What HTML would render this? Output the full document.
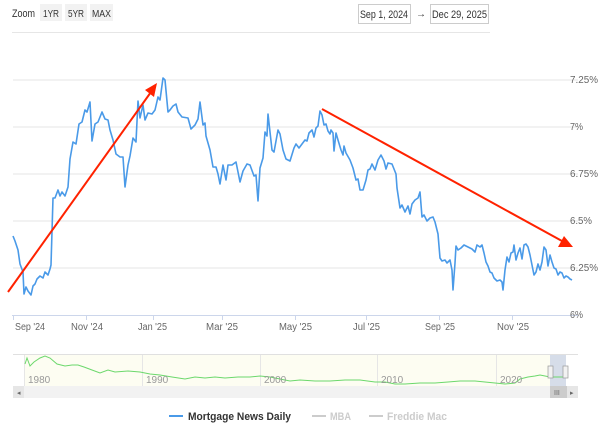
<!DOCTYPE html>
<html><head><style>
body{margin:0;background:#fff;width:610px;height:424px;overflow:hidden;font-family:"Liberation Sans",sans-serif}
</style></head><body>
<svg width="610" height="424" xmlns="http://www.w3.org/2000/svg" font-family="Liberation Sans, sans-serif">
<text x="12" y="17" font-size="11" fill="#333" textLength="23" lengthAdjust="spacingAndGlyphs">Zoom</text>
<rect x="40" y="4" width="22" height="17" fill="#f2f2f2"/><text x="43" y="17" font-size="10.5" fill="#333" textLength="16" lengthAdjust="spacingAndGlyphs">1YR</text>
<rect x="65" y="4" width="22" height="17" fill="#f2f2f2"/><text x="68" y="17" font-size="10.5" fill="#333" textLength="16" lengthAdjust="spacingAndGlyphs">5YR</text>
<rect x="90" y="4" width="23" height="17" fill="#f2f2f2"/><text x="92" y="17" font-size="10.5" fill="#333" textLength="19" lengthAdjust="spacingAndGlyphs">MAX</text>
<rect x="358.5" y="4.5" width="52" height="19" fill="#fff" stroke="#ccc"/><text x="360" y="18" font-size="11" fill="#333" textLength="48" lengthAdjust="spacingAndGlyphs">Sep 1, 2024</text>
<text x="421" y="17" font-size="10" fill="#333" text-anchor="middle">→</text>
<rect x="430.5" y="4.5" width="58" height="19" fill="#fff" stroke="#ccc"/><text x="432" y="18" font-size="11" fill="#333" textLength="55" lengthAdjust="spacingAndGlyphs">Dec 29, 2025</text>
<line x1="12" y1="32.5" x2="490" y2="32.5" stroke="#e6e6e6"/>
<g stroke="#e6e6e6" stroke-width="1">
<line x1="13" y1="80" x2="578" y2="80"/><line x1="13" y1="127" x2="578" y2="127"/><line x1="13" y1="174" x2="578" y2="174"/><line x1="13" y1="221" x2="578" y2="221"/><line x1="13" y1="268" x2="578" y2="268"/>
</g>
<line x1="12" y1="315.5" x2="578" y2="315.5" stroke="#ccd6eb"/>
<g stroke="#ccd6eb"><line x1="13.5" y1="315" x2="13.5" y2="320"/><line x1="86.5" y1="315" x2="86.5" y2="320"/><line x1="153.5" y1="315" x2="153.5" y2="320"/><line x1="222.5" y1="315" x2="222.5" y2="320"/><line x1="295.5" y1="315" x2="295.5" y2="320"/><line x1="366.5" y1="315" x2="366.5" y2="320"/><line x1="439.5" y1="315" x2="439.5" y2="320"/><line x1="512.5" y1="315" x2="512.5" y2="320"/></g>
<g font-size="10" fill="#666" lengthAdjust="spacingAndGlyphs">
<text x="15" y="330" textLength="30" lengthAdjust="spacingAndGlyphs">Sep '24</text>
<text x="71" y="330" textLength="32" lengthAdjust="spacingAndGlyphs">Nov '24</text>
<text x="138" y="330" textLength="29" lengthAdjust="spacingAndGlyphs">Jan '25</text>
<text x="206" y="330" textLength="32" lengthAdjust="spacingAndGlyphs">Mar '25</text>
<text x="279" y="330" textLength="33" lengthAdjust="spacingAndGlyphs">May '25</text>
<text x="353" y="330" textLength="27" lengthAdjust="spacingAndGlyphs">Jul '25</text>
<text x="425" y="330" textLength="30" lengthAdjust="spacingAndGlyphs">Sep '25</text>
<text x="497" y="330" textLength="32" lengthAdjust="spacingAndGlyphs">Nov '25</text>
<text x="570" y="83" textLength="28" lengthAdjust="spacingAndGlyphs">7.25%</text>
<text x="570" y="130" textLength="13" lengthAdjust="spacingAndGlyphs">7%</text>
<text x="570" y="177" textLength="28" lengthAdjust="spacingAndGlyphs">6.75%</text>
<text x="570" y="224" textLength="22" lengthAdjust="spacingAndGlyphs">6.5%</text>
<text x="570" y="271" textLength="28" lengthAdjust="spacingAndGlyphs">6.25%</text>
<text x="570" y="318" textLength="13" lengthAdjust="spacingAndGlyphs">6%</text>
</g>
<polyline fill="none" stroke="#4a9ae8" stroke-width="1.6" stroke-linejoin="round" points="13,236 15,241 18,250 20,264 23,272 24,294 26,287 28,291 31,295 33,286 35,284 37,279 40,276 43,278 45,272 48,275 50,269 51,265 53,198 55,198 58,190 60,196 62,192 65,196 68,187 70,159 73,142 76,144 79,124 82,122 85,110 87,112 90,102 92,141 95,124 98,122 102,112 105,119 108,120 110,130 113,140 116,154 120,157 123,157 125,187 128,165 130,156 133,138 136,142 138,101 140,118 143,105 145,120 148,113 152,114 155,110 158,97 160,100 163,78 165,80 168,112 170,110 173,106 176,104 178,112 182,117 188,118 191,129 195,125 198,119 200,102 203,125 205,123 206,136 210,150 213,167 216,167 218,174 220,184 223,165 226,180 228,165 232,165 236,162 240,182 243,171 247,164 250,165 254,176 256,175 258,201 260,168 263,158 265,132 267,136 268,114 272,150 274,152 278,130 280,134 283,150 286,159 290,161 294,148 296,144 299,148 302,144 305,140 307,141 309,133 312,130 314,137 316,128 318,126 320,111 322,115 324,125 326,124 328,131 330,134 331,130 333,133 334,151 336,133 338,140 341,150 343,155 344,146 346,153 350,160 353,168 356,180 358,179 360,190 363,190 366,180 368,170 370,169 372,164 375,170 378,160 381,155 384,161 386,169 388,163 392,164 396,174 397,188 400,208 402,205 405,212 408,206 410,214 412,204 415,200 418,198 420,192 422,217 424,215 427,221 430,218 433,217 435,222 438,234 440,258 442,261 445,260 447,263 450,260 452,270 453,290 455,263 456,246 458,250 461,248 464,245 468,247 472,249 475,252 477,245 480,247 482,245 484,253 486,262 488,266 490,272 492,273 494,278 497,281 500,280 502,282 503,290 505,270 507,257 509,262 511,253 513,252 514,245 516,260 518,253 520,248 522,259 524,245 526,244 528,247 530,255 532,265 534,275 536,272 538,264 540,270 542,262 544,247 546,250 548,266 550,255 552,262 554,268 556,269 558,275 560,272 562,273 564,278 566,276 568,277 570,279 572,280"/>
<g stroke="#ff2200" stroke-width="2" fill="#ff2200">
<line x1="8" y1="292" x2="151" y2="92"/><polygon points="157,83 145,90 154,97" stroke="none"/>
<line x1="322" y1="109" x2="562" y2="241"/><polygon points="573,247 558,247 564,236" stroke="none"/>
</g>
<line x1="13" y1="354.5" x2="578" y2="354.5" stroke="#e0e0e0"/>
<rect x="25" y="355" width="525" height="31" fill="#fdfdf2"/>
<g stroke="#e6e6e6"><line x1="24.5" y1="355" x2="24.5" y2="386"/><line x1="142.5" y1="355" x2="142.5" y2="386"/><line x1="260.5" y1="355" x2="260.5" y2="386"/><line x1="377.5" y1="355" x2="377.5" y2="386"/><line x1="496.5" y1="355" x2="496.5" y2="386"/></g>
<rect x="550" y="355" width="16" height="31" fill="#d6dde9"/>
<polyline fill="none" stroke="#6cd86c" stroke-width="1" points="25,364 27,358 30,366 34,362 40,358 45,356 50,358 57,364 65,366 72,365 78,365 84,367 92,370 100,373 108,370 115,372 128,371 140,372 150,374 160,375 172,377 185,379 195,377 205,378 215,377 225,378 238,377 250,377 260,376 270,377 280,379 290,381 300,380 315,381 330,381 345,380 360,380 375,382 385,382 395,384 405,384 420,383 435,383 448,382 460,381 475,381 485,382 495,383 505,384 515,383 520,379 528,377 535,376 540,375 550,377 566,377"/>
<rect x="13" y="386" width="565" height="12" fill="#f2f2f2"/>
<rect x="13" y="386" width="11" height="12" fill="#e6e6e6"/><text x="17" y="395" font-size="7" fill="#666">◂</text>
<rect x="550" y="386" width="17" height="12" fill="#ccc"/><text x="554" y="395" font-size="7" fill="#666">III</text>
<rect x="567" y="386" width="11" height="12" fill="#e6e6e6"/><text x="570" y="395" font-size="7" fill="#666">▸</text>
<rect x="548" y="366" width="5" height="12" fill="#f2f2f2" stroke="#999" stroke-width="0.7"/>
<rect x="563" y="366" width="5" height="12" fill="#f2f2f2" stroke="#999" stroke-width="0.7"/>
<g font-size="10" fill="#999"><text x="28" y="383">1980</text><text x="146" y="383">1990</text><text x="264" y="383">2000</text><text x="381" y="383">2010</text><text x="500" y="383">2020</text></g>
<line x1="169" y1="416" x2="183" y2="416" stroke="#4a9ae8" stroke-width="2"/>
<text x="188" y="420" font-size="11" font-weight="bold" fill="#333" textLength="103" lengthAdjust="spacingAndGlyphs">Mortgage News Daily</text>
<line x1="312" y1="416" x2="326" y2="416" stroke="#ccc" stroke-width="2"/>
<text x="330" y="420" font-size="11" font-weight="bold" fill="#ccc" textLength="21" lengthAdjust="spacingAndGlyphs">MBA</text>
<line x1="369" y1="416" x2="383" y2="416" stroke="#ccc" stroke-width="2"/>
<text x="387" y="420" font-size="11" font-weight="bold" fill="#ccc" textLength="60" lengthAdjust="spacingAndGlyphs">Freddie Mac</text>
</svg>
</body></html>
